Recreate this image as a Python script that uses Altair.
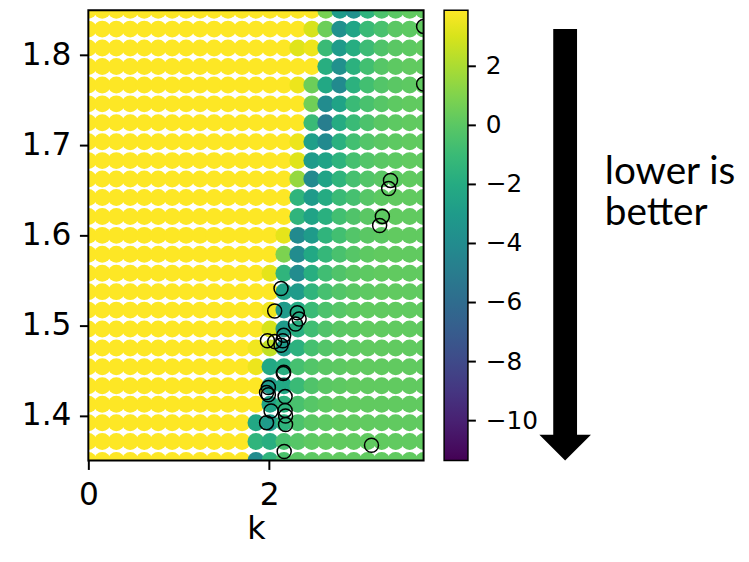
import altair as alt
import pandas as pd

# ---------------- data ----------------
K_VALUES = [0.0, 0.154, 0.309, 0.463, 0.618, 0.772, 0.927, 1.081, 1.235, 1.390,
            1.544, 1.699, 1.853, 2.008, 2.162, 2.316, 2.471, 2.625, 2.780, 2.934,
            3.088, 3.243, 3.397, 3.552, 3.706]
# bottom (1.35) to top (1.85)
Y_VALUES = [1.350, 1.371, 1.392, 1.4125, 1.433, 1.454, 1.475, 1.496, 1.517, 1.5375,
            1.558, 1.579, 1.600, 1.621, 1.642, 1.6625, 1.683, 1.704, 1.725, 1.746,
            1.767, 1.7875, 1.808, 1.829, 1.850]

# rows listed from top (y = 1.85) to bottom (y = 1.35); 25 columns each
GRID = [
    [3.9, 3.9, 3.9, 3.9, 3.9, 3.9, 3.9, 3.9, 3.9, 3.9, 3.9, 3.9, 3.9, 3.9, 3.9, 3.9, 3.9, 0.8, -3.0, -3.7, -1.5, -0.4, 0.0, 0.2, 0.2],
    [3.9, 3.9, 3.9, 3.9, 3.9, 3.9, 3.9, 3.9, 3.9, 3.9, 3.9, 3.9, 3.9, 3.9, 3.9, 3.9, 3.0, 0.5, -3.7, -2.4, -1.0, -0.5, 0.0, 0.1, 0.2],
    [3.9, 3.9, 3.9, 3.9, 3.9, 3.9, 3.9, 3.9, 3.9, 3.9, 3.9, 3.9, 3.9, 3.9, 3.9, 3.2, 3.5, -1.0, -3.0, -1.9, -0.9, -0.3, 0.0, 0.1, 0.2],
    [3.9, 3.9, 3.9, 3.9, 3.9, 3.9, 3.9, 3.9, 3.9, 3.9, 3.9, 3.9, 3.9, 3.9, 3.9, 3.9, 3.9, -1.8, -3.7, -1.6, -0.7, -0.1, 0.1, 0.2, 0.2],
    [3.9, 3.9, 3.9, 3.9, 3.9, 3.9, 3.9, 3.9, 3.9, 3.9, 3.9, 3.9, 3.9, 3.9, 3.9, 3.5, 0.5, -2.2, -4.1, -1.6, -0.7, -0.2, 0.0, 0.1, 0.2],
    [3.9, 3.9, 3.9, 3.9, 3.9, 3.9, 3.9, 3.9, 3.9, 3.9, 3.9, 3.9, 3.9, 3.9, 3.9, 3.9, 0.6, -4.0, -2.5, -1.0, -0.5, -0.1, 0.1, 0.2, 0.2],
    [3.9, 3.9, 3.9, 3.9, 3.9, 3.9, 3.9, 3.9, 3.9, 3.9, 3.9, 3.9, 3.9, 3.9, 3.9, 3.9, -1.0, -4.9, -2.0, -1.0, -0.4, 0.0, 0.1, 0.2, 0.2],
    [3.9, 3.9, 3.9, 3.9, 3.9, 3.9, 3.9, 3.9, 3.9, 3.9, 3.9, 3.9, 3.9, 3.9, 3.9, 3.5, -2.8, -4.1, -1.7, -0.7, -0.2, 0.0, 0.1, 0.2, 0.2],
    [3.9, 3.9, 3.9, 3.9, 3.9, 3.9, 3.9, 3.9, 3.9, 3.9, 3.9, 3.9, 3.9, 3.9, 3.9, 3.2, -3.0, -2.5, -1.5, -0.6, -0.2, 0.0, 0.1, 0.2, 0.2],
    [3.9, 3.9, 3.9, 3.9, 3.9, 3.9, 3.9, 3.9, 3.9, 3.9, 3.9, 3.9, 3.9, 3.9, 3.9, 1.5, -4.1, -2.5, -1.4, -0.6, -0.2, 0.0, 0.1, 0.2, 0.2],
    [3.9, 3.9, 3.9, 3.9, 3.9, 3.9, 3.9, 3.9, 3.9, 3.9, 3.9, 3.9, 3.9, 3.9, 3.9, -1.4, -3.0, -2.0, -1.0, -0.6, -0.1, 0.1, 0.2, 0.2, 0.2],
    [3.9, 3.9, 3.9, 3.9, 3.9, 3.9, 3.9, 3.9, 3.9, 3.9, 3.9, 3.9, 3.9, 3.9, 3.9, -1.4, -2.5, -1.7, -0.7, -0.3, 0.0, 0.1, 0.2, 0.2, 0.2],
    [3.9, 3.9, 3.9, 3.9, 3.9, 3.9, 3.9, 3.9, 3.9, 3.9, 3.9, 3.9, 3.9, 3.9, 3.3, -4.1, -3.0, -1.4, -0.7, -0.2, 0.0, 0.1, 0.2, 0.2, 0.2],
    [3.9, 3.9, 3.9, 3.9, 3.9, 3.9, 3.9, 3.9, 3.9, 3.9, 3.9, 3.9, 3.9, 3.9, 0.9, -4.0, -2.2, -1.2, -0.5, -0.1, 0.1, 0.2, 0.2, 0.2, 0.2],
    [3.9, 3.9, 3.9, 3.9, 3.9, 3.9, 3.9, 3.9, 3.9, 3.9, 3.9, 3.9, 3.9, 3.3, -1.4, -4.0, -1.8, -0.8, -0.3, 0.0, 0.1, 0.2, 0.2, 0.2, 0.2],
    [3.9, 3.9, 3.9, 3.9, 3.9, 3.9, 3.9, 3.9, 3.9, 3.9, 3.9, 3.9, 3.9, 3.9, -2.5, -3.0, -1.4, -0.6, -0.2, 0.0, 0.1, 0.2, 0.2, 0.2, 0.2],
    [3.9, 3.9, 3.9, 3.9, 3.9, 3.9, 3.9, 3.9, 3.9, 3.9, 3.9, 3.9, 3.9, 3.6, -3.0, -2.0, -1.0, -0.4, -0.1, 0.1, 0.2, 0.2, 0.2, 0.2, 0.2],
    [3.9, 3.9, 3.9, 3.9, 3.9, 3.9, 3.9, 3.9, 3.9, 3.9, 3.9, 3.9, 3.9, 3.0, -3.0, -1.8, -0.8, -0.3, 0.0, 0.1, 0.2, 0.2, 0.2, 0.2, 0.2],
    [3.9, 3.9, 3.9, 3.9, 3.9, 3.9, 3.9, 3.9, 3.9, 3.9, 3.9, 3.9, 3.6, 2.5, -3.0, -1.6, -0.6, -0.2, 0.0, 0.1, 0.2, 0.2, 0.2, 0.2, 0.2],
    [3.9, 3.9, 3.9, 3.9, 3.9, 3.9, 3.9, 3.9, 3.9, 3.9, 3.9, 3.9, 3.5, -2.2, -1.8, -0.6, -0.2, 0.0, 0.1, 0.2, 0.2, 0.2, 0.2, 0.2, 0.2],
    [3.9, 3.9, 3.9, 3.9, 3.9, 3.9, 3.9, 3.9, 3.9, 3.9, 3.9, 3.9, 3.9, -3.0, -2.2, -1.0, -0.3, 0.0, 0.1, 0.2, 0.2, 0.2, 0.2, 0.2, 0.2],
    [3.9, 3.9, 3.9, 3.9, 3.9, 3.9, 3.9, 3.9, 3.9, 3.9, 3.9, 3.9, 3.9, -2.5, -1.5, -0.5, -0.1, 0.1, 0.2, 0.2, 0.2, 0.2, 0.2, 0.2, 0.2],
    [3.9, 3.9, 3.9, 3.9, 3.9, 3.9, 3.9, 3.9, 3.9, 3.9, 3.9, 3.9, -2.2, -3.0, -1.5, -0.4, 0.0, 0.1, 0.2, 0.2, 0.2, 0.2, 0.2, 0.2, 0.2],
    [3.9, 3.9, 3.9, 3.9, 3.9, 3.9, 3.9, 3.9, 3.9, 3.9, 3.9, 3.9, -1.4, -1.8, -0.5, -0.1, 0.1, 0.2, 0.2, 0.2, 0.2, 0.2, 0.2, 0.2, 0.2],
    [3.9, 3.9, 3.9, 3.9, 3.9, 3.9, 3.9, 3.9, 3.9, 3.9, 3.9, 3.9, -4.0, -1.4, -0.4, 0.0, 0.1, 0.2, 0.2, 0.2, 0.2, 0.2, 0.2, 0.2, 0.2],
]

OPEN_K = [3.706, 3.706, 3.34, 3.32, 3.25, 3.22, 2.13, 2.06, 2.31, 2.33, 2.29,
          1.98, 2.06, 2.16, 2.15, 2.13, 2.16, 2.155, 1.99, 1.97, 1.99, 2.175,
          2.02, 2.175, 2.18, 1.97, 2.18, 2.165, 3.13]
OPEN_Y = [1.832, 1.768, 1.661, 1.652, 1.621, 1.611, 1.541, 1.516, 1.514, 1.507, 1.5015,
          1.483, 1.482, 1.489, 1.483, 1.478, 1.448, 1.4465, 1.431, 1.4255, 1.423, 1.421,
          1.405, 1.4056, 1.3994, 1.392, 1.390, 1.360, 1.367]

CBAR_TICKS = [-10, -8, -6, -4, -2, 0, 2]
C_DOMAIN = [-11.35, 3.9]
K_DOMAIN = [0, 3.706]
Y_DOMAIN = [1.35, 1.85]

# ---------------- tables ----------------
rows = []
for r, row in enumerate(reversed(GRID)):
    for c, v in enumerate(row):
        rows.append({"k": K_VALUES[c], "y": Y_VALUES[r], "v": v})
grid_df = pd.DataFrame(rows)
open_df = pd.DataFrame({"k": OPEN_K, "y": OPEN_Y})
tick_df = pd.DataFrame({"t": CBAR_TICKS})
one = pd.DataFrame({"a": [0]})

W, H = 338, 454

xscale = alt.Scale(domain=K_DOMAIN, nice=False, zero=False)
yscale = alt.Scale(domain=Y_DOMAIN, nice=False, zero=False)
cscale = alt.Scale(scheme="viridis", domain=C_DOMAIN, clamp=True)

grid = alt.Chart(grid_df).mark_circle(size=292, opacity=1, clip=True).encode(
    x=alt.X("k:Q", scale=xscale,
            axis=alt.Axis(values=[0, 2], format="d", title="k", labelFlush=False,
                          labelPadding=10, titleY=79, titleBaseline="alphabetic")),
    y=alt.Y("y:Q", scale=yscale,
            axis=alt.Axis(values=[1.4, 1.5, 1.6, 1.7, 1.8], format=".1f", title=None,
                          labelPadding=8.5)),
    color=alt.Color("v:Q", scale=cscale,
                    legend=alt.Legend(orient="none", legendX=358.7, legendY=0,
                                      direction="vertical", gradientLength=H,
                                      gradientThickness=24, gradientStrokeColor="black",
                                      gradientStrokeWidth=1.5, values=CBAR_TICKS,
                                      labelFont="DejaVu Sans", labelFontSize=25,
                                      labelColor="black", labelOffset=18, title=None,
                                      padding=0, labelOverlap=False)),
)

open_pts = alt.Chart(open_df).mark_point(
    shape="circle", filled=False, size=200, stroke="black", strokeWidth=1.5,
    opacity=1, clip=True
).encode(
    x=alt.X("k:Q", scale=xscale),
    y=alt.Y("y:Q", scale=yscale),
)

main = alt.layer(grid, open_pts)

cbar_ticks = alt.Chart(tick_df).mark_rule(color="black", strokeWidth=2).encode(
    y=alt.Y("t:Q", scale=alt.Scale(domain=C_DOMAIN, nice=False, zero=False), axis=None),
    x=alt.value(382.7),
    x2=alt.value(390.7),
)

shaft = alt.Chart(one).mark_rule(color="black", strokeWidth=24, strokeCap="butt").encode(
    x=alt.value(480.7), y=alt.value(19), y2=alt.value(429)
)
head = alt.Chart(one).mark_point(
    shape="M-1,-0.5L1,-0.5L0,0.5Z", size=2704, filled=True, color="black",
    opacity=1, strokeWidth=0
).encode(x=alt.value(480.7), y=alt.value(441))

txt1 = alt.Chart(one).mark_text(
    text="lower is", font="Lato", fontSize=39, align="left", baseline="alphabetic",
    color="black"
).encode(x=alt.value(520.7), y=alt.value(175))
txt2 = alt.Chart(one).mark_text(
    text="better", font="Lato", fontSize=39, align="left", baseline="alphabetic",
    color="black"
).encode(x=alt.value(520.7), y=alt.value(217))

frame = alt.Chart(one).mark_rect(filled=False, stroke="black", strokeWidth=2).encode(
    x=alt.value(0), x2=alt.value(W), y=alt.value(0), y2=alt.value(H)
)

chart = alt.layer(main, cbar_ticks, shaft, head, txt1, txt2, frame).resolve_scale(
    y="independent"
).properties(
    width=W, height=H,
    autosize=alt.AutoSizeParams(type="none"),
    padding={"left": 81, "top": 0, "right": 320, "bottom": 87},
).configure_view(
    strokeWidth=0
).configure_axis(
    labelFont="DejaVu Sans", labelFontSize=31.5, labelColor="black",
    tickColor="black", tickWidth=2, tickSize=9, domain=False, grid=False,
    titleFont="DejaVu Sans", titleFontSize=32, titleFontWeight="normal",
    titleColor="black"
)

chart.save("out.html", embed_options={"renderer": "svg", "actions": False})
